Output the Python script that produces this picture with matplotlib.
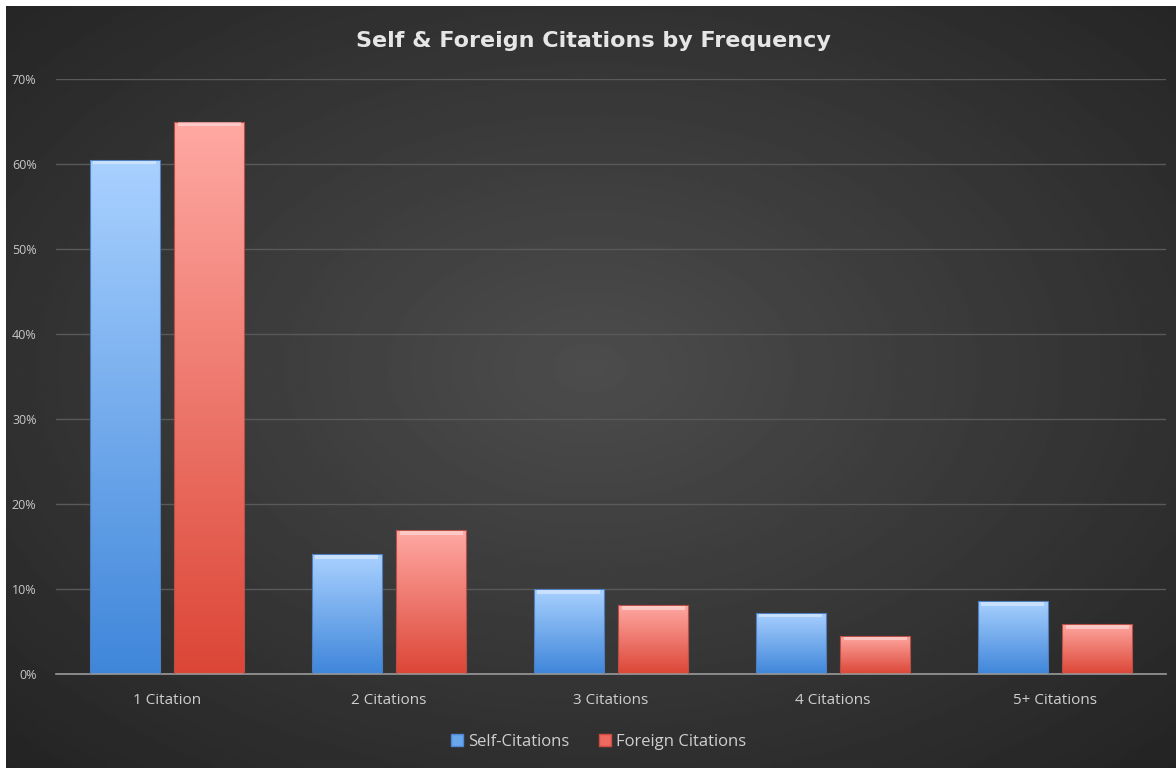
import numpy as np
import matplotlib.pyplot as plt
from matplotlib.patches import Patch
from matplotlib.colors import LinearSegmentedColormap

categories = ['1 Citation', '2 Citations', '3 Citations', '4 Citations', '5+ Citations']
self_cit = [60.5, 14.1, 10.0, 7.2, 8.6]
foreign_cit = [65.0, 16.9, 8.1, 4.5, 5.9]
yticks = [0, 10, 20, 30, 40, 50, 60, 70]

plt.rcParams['font.family'] = ['Open Sans', 'DejaVu Sans']

fig = plt.figure(figsize=(11.76, 7.70), dpi=100)
fig.patch.set_facecolor('white')

# dark radial background
bg = fig.add_axes([6 / 1176, 2 / 770, 1170 / 1176, 762 / 770])
yy, xx = np.mgrid[-1:1:300j, -1:1:450j]
r = np.sqrt((xx * 0.85) ** 2 + ((yy + 0.05) * 0.85) ** 2)
shade = np.clip(0.30 - 0.13 * r, 0.14, 0.30)
bg.imshow(shade, cmap='gray', vmin=0, vmax=1, aspect='auto', extent=[0, 1, 0, 1])
bg.set_axis_off()

ax = fig.add_axes([56 / 1176, 1 - 674 / 770, 1110 / 1176, (674 - 79) / 770])
ax.patch.set_alpha(0)

x = np.arange(len(categories))
w = 0.315
off = 0.19

blue = LinearSegmentedColormap.from_list('b', ['#3f86da', '#a9d1ff'])
red = LinearSegmentedColormap.from_list('r', ['#dc4636', '#ffa9a3'])
grad = np.linspace(0, 1, 256).reshape(-1, 1)

def draw(vals, pos, cmap, edge):
    bars = ax.bar(pos, vals, w, facecolor='none', edgecolor=edge, linewidth=0.8, zorder=3)
    for b in bars:
        x0, y0 = b.get_x(), b.get_y()
        bw, bh = b.get_width(), b.get_height()
        im = ax.imshow(grad, cmap=cmap, origin='lower', aspect='auto',
                       extent=[x0, x0 + bw, y0, y0 + bh], zorder=2)
        im.set_clip_path(b)
        # bevel highlight on top
        ax.fill_between([x0 + 0.015, x0 + bw - 0.015], y0 + bh - 0.55, y0 + bh - 0.1,
                        color='white', alpha=0.4, linewidth=0, zorder=4)
    return bars

draw(self_cit, x - off, blue, '#4f7fbf')
draw(foreign_cit, x + off, red, '#b85048')

ax.set_xlim(-0.5, len(categories) - 0.5)
ax.set_ylim(0, 70)
ax.set_yticks(yticks)
ax.set_yticklabels([f'{t}%' for t in yticks])
ax.set_xticks(x)
ax.set_xticklabels(categories)
ax.tick_params(axis='y', length=0, labelsize=9, colors='#c8c8c8', pad=14)
ax.tick_params(axis='x', length=0, labelsize=11, colors='#cfcfcf', pad=14)
ax.grid(axis='y', color='#595959', linewidth=1)
ax.set_axisbelow(True)
for s in ['top', 'right', 'left']:
    ax.spines[s].set_visible(False)
ax.spines['bottom'].set_color('#9a9a9a')
ax.spines['bottom'].set_linewidth(1.2)

fig.text(0.505, 1 - 41 / 770, 'Self & Foreign Citations by Frequency', ha='center', va='center',
         fontsize=16, fontweight='bold', color='#e6e6e6', family='DejaVu Sans')

handles = [Patch(facecolor='#6aa6ec', edgecolor='#4d88d4'),
           Patch(facecolor='#ec6a60', edgecolor='#d04a40')]
fig.legend(handles, ['Self-Citations', 'Foreign Citations'], loc='center',
           bbox_to_anchor=(0.509, 1 - 742 / 770), ncol=2, frameon=False,
           fontsize=12, labelcolor='#cfcfcf', handlelength=0.7, handleheight=0.7,
           handletextpad=0.3, columnspacing=1.8)

fig.savefig('out.png', dpi=100, facecolor=fig.get_facecolor())
